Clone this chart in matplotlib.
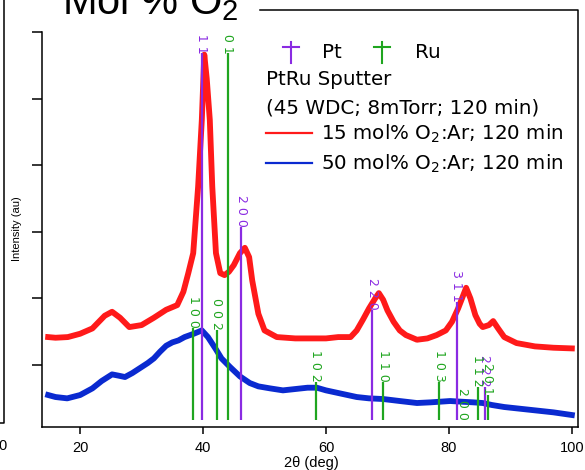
import matplotlib
matplotlib.use("Agg")
import matplotlib.pyplot as plt
from matplotlib.lines import Line2D

plt.rcParams['font.family'] = ['Liberation Sans', 'DejaVu Sans']

# XRD scans, 2theta in degrees vs intensity (arb. units, offset)
tt_15 = [14.8, 16, 18, 20, 22, 24, 25.2, 26.5, 28, 30, 32, 34, 35.8, 36.8, 37.6,
         38.4, 39.2, 39.8, 40.2, 40.6, 41.1, 41.5, 42.1, 42.8, 43.5, 44.2, 45.0,
         46.0, 46.8, 47.5, 48.0, 49.0, 50.0, 52, 55, 58, 60, 62, 64, 65, 66, 67,
         68, 68.6, 69.3, 70, 71, 72, 73, 74.8, 76.5, 78, 79.5, 80.5, 81.5, 82.8,
         83.5, 84.3, 85, 85.5, 86.5, 87.2, 88, 89, 91, 94, 97, 100]
int_15 = [1.42, 1.41, 1.42, 1.47, 1.55, 1.74, 1.80, 1.71, 1.57, 1.60, 1.71, 1.83,
          1.90, 2.10, 2.38, 2.68, 3.68, 4.68, 5.66, 5.30, 4.68, 3.68, 2.68, 2.38,
          2.35, 2.40, 2.50, 2.68, 2.76, 2.62, 2.27, 1.77, 1.52, 1.42, 1.40, 1.40,
          1.40, 1.42, 1.42, 1.52, 1.68, 1.85, 2.00, 2.08, 1.98, 1.82, 1.65, 1.52,
          1.45, 1.38, 1.40, 1.45, 1.52, 1.65, 1.85, 2.16, 2.00, 1.75, 1.62, 1.57,
          1.60, 1.66, 1.55, 1.42, 1.33, 1.28, 1.26, 1.25]

tt_50 = [14.8, 16, 17.9, 20, 22, 23.5, 25.2, 26.3, 27.3, 28.5, 30, 31, 32, 33,
         34, 35, 36, 37, 38.5, 39.8, 40.8, 42, 43, 44.4, 46, 47.6, 49, 50.9, 53,
         55, 57, 58.5, 60, 62, 65, 67, 69.3, 72, 74.8, 77, 80.2, 82, 84, 85.5, 87,
         89, 91, 94, 97, 100]
int_50 = [0.55, 0.52, 0.50, 0.55, 0.65, 0.76, 0.86, 0.84, 0.82, 0.88, 0.97, 1.03,
          1.10, 1.20, 1.29, 1.34, 1.37, 1.42, 1.47, 1.52, 1.42, 1.25, 1.10, 0.97,
          0.83, 0.73, 0.68, 0.65, 0.62, 0.64, 0.66, 0.66, 0.62, 0.58, 0.52, 0.50,
          0.49, 0.46, 0.43, 0.44, 0.46, 0.45, 0.44, 0.43, 0.40, 0.37, 0.35, 0.32,
          0.29, 0.25]

# reference patterns: position, top of stick, hkl
stick_base = 0.175
pt_pos = [39.8, 46.2, 67.5, 81.3, 85.8]
pt_top = [5.68, 3.07, 1.83, 1.95, 0.67]
pt_hkl = ['1 1 1', '2 0 0', '2 2 0', '3 1 1', '2 2 2']

ru_pos = [38.4, 42.2, 44.0, 58.3, 69.3, 78.4, 82.2, 84.7, 86.3]
ru_top = [1.56, 1.53, 5.68, 0.75, 0.75, 0.75, 0.175, 0.67, 0.55]
ru_hkl = ['1 0 0', '0 0 2', '1 0 1', '1 0 2', '1 1 0', '1 0 3', '2 0 0', '1 1 2', '2 0 1']

xticks = [20, 40, 60, 80, 100]
yticks = [1, 2, 3, 4, 5, 6]

W, H = 585, 470
def px(x, y):
    return x / W, 1 - y / H

red = '#ff1a1a'
blue = '#0a2ad0'
purple = '#8a2be2'
green = '#1fa51f'

fig = plt.figure(figsize=(W / 100, H / 100), dpi=100)
ax = fig.add_axes([42 / W, 43 / H, 536 / W, 395 / H])

ax.plot(tt_15, int_15, color=red, lw=4.2, solid_joinstyle='round', zorder=2)
ax.plot(tt_50, int_50, color=blue, lw=4.2, solid_joinstyle='round', zorder=2)

for pos, top, hkl in zip(pt_pos, pt_top, pt_hkl):
    ax.vlines(pos, stick_base, top, color=purple, lw=1.6, zorder=3)
    ax.text(pos, top, hkl, rotation=-90, ha='center', va='bottom', fontsize=9,
            color=purple, family='DejaVu Sans', zorder=3, clip_on=True)
for pos, top, hkl in zip(ru_pos, ru_top, ru_hkl):
    ax.vlines(pos, stick_base, top, color=green, lw=1.6, zorder=3)
    ax.text(pos, top, hkl, rotation=-90, ha='center', va='bottom', fontsize=9,
            color=green, family='DejaVu Sans', zorder=3, clip_on=True)

ax.set_xlim(13.8, 101)
ax.set_ylim(0.07, 6.0)
ax.set_xticks(xticks)
ax.set_xticklabels([str(t) for t in xticks])
ax.set_yticks(yticks)
ax.set_yticklabels([])
ax.tick_params(axis='x', direction='out', length=5, width=1.1, labelsize=10.5, pad=5)
ax.tick_params(axis='y', direction='out', length=7, width=1.1)
for side in ['top', 'right']:
    ax.spines[side].set_visible(False)
for side in ['left', 'bottom']:
    ax.spines[side].set_linewidth(1.1)

# outer frame around the panel
fx, fy = zip(px(260, 10), px(578, 10), px(578, 427))
fig.add_artist(Line2D(fx, fy, color='black', lw=1.1))

# edge of the neighbouring panel
nx, ny = zip(px(4, 0), px(4, 423), px(-2, 423))
fig.add_artist(Line2D(nx, ny, color='black', lw=1.1))
fig.text(*px(-2, 450), '0', fontsize=10.5, ha='left', va='baseline')

fig.text(*px(62, 14), 'Mol % O$_\\mathregular{2}$', fontsize=30, ha='left', va='baseline')

fig.text(*px(17, 229), 'Intensity (au)', rotation=90, fontsize=8, ha='center', va='center')
fig.text(*px(311, 467), '2\u03b8 (deg)', fontsize=10.5, ha='center', va='baseline')

# key
for cx, col in [(291, purple), (382, green)]:
    vx, vy = zip(px(cx, 42), px(cx, 63))
    hx, hy = zip(px(cx - 8, 47), px(cx + 8, 47))
    fig.add_artist(Line2D(vx, vy, color=col, lw=1.5))
    fig.add_artist(Line2D(hx, hy, color=col, lw=1.5))

kfont = dict(fontsize=14.3, family='DejaVu Sans', ha='left', va='baseline')
fig.text(*px(322, 58), 'Pt', **kfont)
fig.text(*px(415, 58), 'Ru', **kfont)
fig.text(*px(266, 85), 'PtRu Sputter', **kfont)
fig.text(*px(266, 113), '(45 WDC; 8mTorr; 120 min)', **kfont)
for ly, col, label in [(133, red, '15 mol% O$_\\mathregular{2}$:Ar; 120 min'),
                       (163, blue, '50 mol% O$_\\mathregular{2}$:Ar; 120 min')]:
    lx, lyy = zip(px(266, ly), px(312, ly))
    fig.add_artist(Line2D(lx, lyy, color=col, lw=1.6))
    fig.text(*px(321, ly + 7), label, **kfont)

fig.savefig('out.png', dpi=100)
